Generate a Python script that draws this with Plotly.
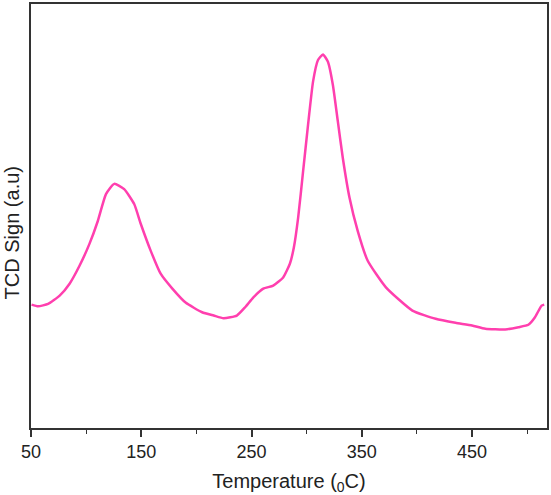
import plotly.graph_objects as go

temperature = [50.5, 56.5, 65.5, 76.0, 85.0, 94.0, 103.0, 110.6, 118.0, 125.5, 134.5, 143.6,
               149.6, 158.6, 167.6, 178.2, 190.2, 205.2, 215.7, 224.7, 236.7, 244.2, 251.7,
               260.7, 269.7, 278.7, 284.8, 288.4, 292.3, 296.8, 301.3, 305.8, 310.3, 314.8,
               319.3, 323.8, 328.3, 332.8, 338.9, 346.3, 355.4, 371.9, 395.9, 417.0, 435.0,
               450.0, 462.1, 480.1, 492.1, 501.1, 507.1, 513.1, 515.5]
tcd_signal = [124, 122.3, 124.7, 133, 145, 163, 185, 208, 235, 245.3, 240, 225,
              205, 178, 155, 140, 126, 116.3, 113, 110.3, 113, 121.3, 131.3,
              140, 143, 151.3, 165, 181.3, 211.3, 258, 304.7, 348, 369.7, 375.3,
              368, 344.7, 308, 271.3, 231.3, 198, 168, 141.3, 118, 109.7, 105.7,
              103, 99.7, 99, 101.3, 103.7, 111.3, 123, 124]
x_ticks = [50, 150, 250, 350, 450]

fig = go.Figure()
fig.add_trace(go.Scatter(x=temperature, y=tcd_signal, mode="lines",
                         line=dict(color="#ff3fae", width=2.5, shape="spline", smoothing=0.5),
                         showlegend=False))

fig.update_layout(
    width=551, height=495,
    margin=dict(l=30.5, r=2.5, t=2, b=67),
    paper_bgcolor="white", plot_bgcolor="white",
    font=dict(family="Liberation Sans, Arial, sans-serif", color="#222", size=18),
    xaxis=dict(range=[50, 518], tickvals=x_ticks, ticks="outside", ticklen=7, tickwidth=1.5,
               tickcolor="#333", showline=True, linecolor="#333", linewidth=1.5, mirror=True,
               showgrid=False, zeroline=False,
               minor=dict(dtick=50, tick0=0, ticks="outside", ticklen=4, tickwidth=1.2, tickcolor="#333"),
               tickfont=dict(size=18),
               title=dict(text="Temperature (<sub>0</sub>C)", font=dict(size=20), standoff=14)),
    yaxis=dict(range=[0, 426], showticklabels=False, ticks="", showline=True, linecolor="#333",
               linewidth=1.5, mirror=True, showgrid=False, zeroline=False),
    annotations=[dict(text="TCD Sign (a.u)", textangle=-90, xref="paper", yref="paper",
                      x=-0.036, y=0.46, xanchor="center", yanchor="middle", showarrow=False,
                      font=dict(size=20, color="#222"))],
)

fig.write_html("out.html")
